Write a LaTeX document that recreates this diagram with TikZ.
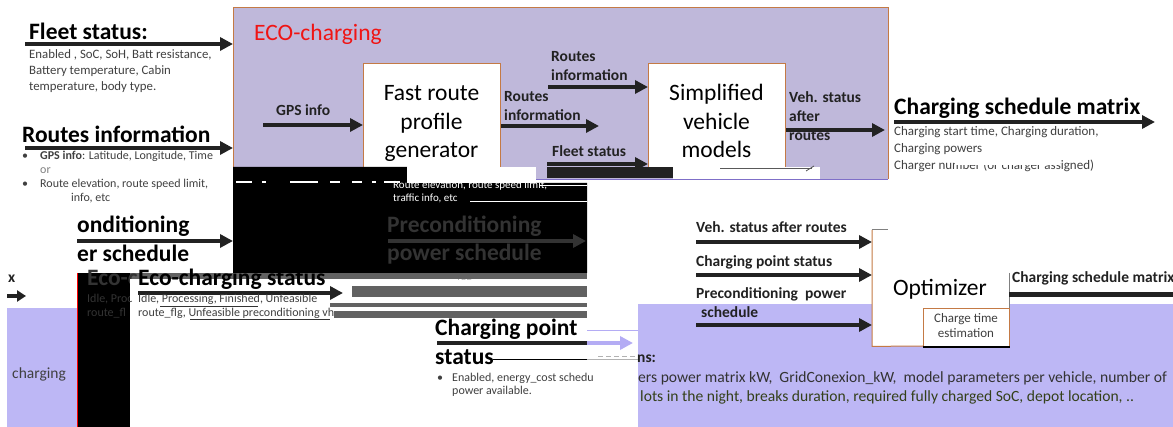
\documentclass[tikz,border=0pt]{standalone}
\usepackage{fontspec}
\setmainfont{Carlito}
\usetikzlibrary{arrows.meta}
\definecolor{ecofill}{HTML}{BFB8DA}
\definecolor{ecoline}{HTML}{C47A45}
\definecolor{ecobottom}{HTML}{7F6FC8}
\definecolor{lavender}{HTML}{BDB7F5}
\definecolor{lavarrow}{HTML}{B4ACF4}
\definecolor{ink}{HTML}{222222}
\definecolor{bodytext}{HTML}{404040}
\definecolor{ghost}{HTML}{333333}
\definecolor{band}{HTML}{626262}
\definecolor{olive}{HTML}{34401A}
\definecolor{ecored}{HTML}{F01414}

\tikzset{
  flow/.style={line width=4.5pt, draw=ink, -{Triangle[length=13pt,width=13pt]}},
  head/.style={font=\bfseries\fontsize{23.5}{26}\selectfont, anchor=base west, inner sep=0pt, text=black},
  lbl/.style={font=\bfseries\fontsize{15.5}{18}\selectfont, anchor=base west, inner sep=0pt, text=ink},
  note/.style={font=\fontsize{12}{14}\selectfont, anchor=base west, inner sep=0pt, text=bodytext},
  bignote/.style={note, font=\fontsize{12.8}{15}\selectfont},
  big/.style={font=\fontsize{23.5}{26}\selectfont, anchor=base, inner sep=0pt, text=black},
  blockbox/.style={draw=ecoline, line width=1pt, fill=white, inner sep=0pt, anchor=north west},
}

\begin{document}
\begin{tikzpicture}[x=1pt,y=-1pt]
\useasboundingbox (0,0) rectangle (1173,427);
\clip (0,0) rectangle (1173,427);
\fill[white] (0,0) rectangle (1173,427);

% ---------- ECO-charging frame ----------
\node[fill=ecofill, minimum width=655pt, minimum height=171pt, inner sep=0pt, anchor=north west] (eco) at (233,8) {};
\draw[ecoline, line width=1pt] (eco.south west) -- (eco.north west) -- (eco.north east) -- (eco.south east);
\draw[ecobottom, line width=1pt] (eco.south west) -- (eco.south east);
\node[font=\fontsize{23.5}{26}\selectfont, text=ecored, anchor=base west, inner sep=0pt] (ecot) at (254,41) {ECO-charging};

% fast route profile generator
\node[blockbox, minimum width=137pt, minimum height=104pt] (frp) at (363,63) {};
\node[big] (frp1) at (431.5,101) {Fast route};
\node[big] (frp2) at (431.5,130) {profile};
\node[big] (frp3) at (431.5,158) {generator};

% simplified vehicle models
\node[blockbox, minimum width=137pt, minimum height=104pt] (svm) at (648,63) {};
\node[big] (svm1) at (716.5,101) {Simplified};
\node[big] (svm2) at (716.5,130) {vehicle};
\node[big] (svm3) at (716.5,158) {models};

% inner flows
\node[lbl] (gpsl) at (276,116) {GPS info};
\coordinate (gpsA) at (263,125);
\draw[flow] (gpsA) -- (gpsA -| frp.west);

\node[lbl] (ri1) at (504,102) {Routes};
\node[lbl] (ri2) at (504,121) {information};
\coordinate (riB) at (599,126);
\draw[flow] (frp.east |- riB) -- (riB);

\node[lbl] (ru1) at (551,62) {Routes};
\node[lbl] (ru2) at (551,81) {information};
\coordinate (ruA) at (548,87);
\draw[flow] (ruA) -- (ruA -| svm.west);

\node[lbl] (fsl) at (552,157) {Fleet status};
\coordinate (fsiA) at (547,164);
\draw[flow] (fsiA) -- (fsiA -| svm.west);

\node[lbl] (vs1) at (789,103) {Veh. status};
\node[lbl] (vs2) at (789,122) {after};
\node[lbl] (vs3) at (789,141) {routes};
\coordinate (vsB) at (885,130);
\draw[flow] (svm.east |- vsB) -- (vsB);

% strip under the frame
\fill[ink] (547,167) rectangle (673,178);
\fill[white] (673,167) rectangle (820,179);
\draw[gray!70!black, line width=0.8pt] (720,168) -- (812,168);
\draw[gray!70!black, line width=0.8pt] (806,171) -- (814,166);

% ---------- inputs on the left ----------
\node[head] (fst) at (29,40) {Fleet status:};
\coordinate (fsA) at (25,44);
\draw[flow] (fsA) -- (fsA -| eco.west);
\node[bignote] (fs1) at (29,59) {Enabled , SoC, SoH, Batt resistance,};
\node[bignote] (fs2) at (29,75) {Battery temperature, Cabin};
\node[bignote] (fs3) at (29,91) {temperature, body type.};

\node[head] (rit) at (22,143) {Routes information};
\coordinate (riA) at (25,148);
\draw[flow] (riA) -- (riA -| eco.west);
\node[note] (rb1) at (22,160) {•};
\node[note] (rt1) at (40,160) {\textbf{GPS info}: Latitude, Longitude, Time};
\node[note, text=gray] (rt2) at (40,174) {or};
\node[note] (rb2) at (22,188) {•};
\node[note] (rt3) at (40,188) {Route elevation, route speed limit,};
\node[note] (rt4) at (71,202) {info, etc};

% ---------- black block ----------
\fill[black] (233,167) -- (407,167) -- (407,183) -- (587,183) -- (587,273) -- (233,273) -- cycle;
\fill[white] (407,167) rectangle (536,183);
\foreach \a/\b in {236/252, 262/266, 290/318, 330/340, 352/362, 372/376, 384/400}
  \draw[white, line width=1.2pt] (\a,182) -- (\b,182);
\node[note, text=white, font=\fontsize{11}{13}\selectfont] (gl1) at (393,189) {Route elevation, route speed limit,};
\node[note, text=white, font=\fontsize{11}{13}\selectfont] (gl2) at (393,202) {traffic info, etc};
\draw[white, line width=0.8pt] (540,185) -- (587,185);
\draw[white, line width=0.8pt] (470,201) -- (587,201);

\node[head, text=ghost] (pc1) at (387,233) {Preconditioning};
\node[head, text=ghost] (pc2) at (387,261) {power schedule};
\coordinate (pcA) at (388,241);
\coordinate (pcB) at (586,241);
\draw[flow, draw=ghost] (pcA) -- (pcB);
\draw[white, line width=0.6pt] (300,276) -- (587,276);
\node[font=\fontsize{10}{12}\selectfont, text=gray!60, anchor=base west, inner sep=0pt] (tbd) at (456,281) {TBD};

% preconditioning input (left)
\node[head] (po1) at (77,233) {onditioning};
\node[head] (po2) at (77,262) {er schedule};
\coordinate (poA) at (77,241);
\coordinate (poB) at (233,241);
\draw[flow] (poA) -- (poB);

% ---------- lower left ----------
\fill[lavender] (7,308) rectangle (77,427);
\node[font=\fontsize{15.5}{18}\selectfont, text=bodytext, anchor=base west, inner sep=0pt] (chg) at (12,379) {charging};
\node[lbl] (xl) at (8,283) {x};
\coordinate (xA) at (7,296);
\coordinate (xB) at (26,296);
\draw[line width=4pt, draw=ink, -{Triangle[length=9pt,width=11pt]}] (xA) -- (xB);

\fill[black] (77,273) rectangle (130,427);
\draw[red, line width=0.8pt] (77,273) -- (77,427);
\fill[band] (130,273) rectangle (587,279);

\node[head, text=ghost] (eg) at (87,286) {Eco-c};
\node[note, text=ghost] (eg1) at (87,303) {Idle, Proc};
\node[note, text=ghost] (eg2) at (87,317) {route\_fl};

\fill[white] (130,279) rectangle (343,300);
\node[head] (est) at (138,286) {Eco-charging status};
\coordinate (esA) at (138,293);
\coordinate (esB) at (343,293);
\draw[flow] (esA) -- (esB);
\node[note] (es1) at (138,303) {Idle, Processing, Finished, Unfeasible};
\node[note] (es2) at (138,317) {route\_flg, Unfeasible preconditioning vh};
\draw[ghost, line width=0.8pt] (160,306) -- (258,306);
\draw[ghost, line width=0.8pt] (190,319) -- (330,319);

\fill[band] (352,286) rectangle (587,297);
\fill[band] (330,303) rectangle (587,307);
\fill[band] (334,311) rectangle (587,318);

% ---------- charging point status ----------
\node[head] (cpt1) at (435,336) {Charging point};
\node[head] (cpt2) at (435,365) {status};
\coordinate (cpA) at (437,343);
\coordinate (cpM) at (587,343);
\coordinate (cpB) at (633,343);
\draw[line width=4.5pt, ink] (cpA) -- (cpM);
\draw[flow, draw=lavarrow] (cpM) -- (cpB);
\draw[lavarrow, line width=0.6pt] (587,330) -- (640,330);
\draw[black, line width=0.9pt] (493,359) -- (587,359);
\draw[gray!60, line width=0.9pt] (587,359) -- (640,359);
\node[note] (cb1) at (437,382) {•};
\node[note] (ct1) at (452,382) {Enabled, energy\_cost schedu};
\node[note] (ct2) at (452,395) {power available.};

% ---------- lower right: parameters ----------
\fill[lavender] (638,304) rectangle (1173,427);
\draw[gray!60, line width=1pt, dash pattern=on 5pt off 3pt] (598,357) -- (636,357);
\node[lbl] (pmt) at (637,363) {ns:};
\node[font=\fontsize{15.6}{18}\selectfont, text=ghost, anchor=base west, inner sep=0pt] (pm1) at (638,383) {ers power matrix kW,\ \ GridConexion\_kW,\ \ model parameters per vehicle, number of};
\node[font=\fontsize{15.6}{18}\selectfont, text=olive, anchor=base west, inner sep=0pt] (pm2) at (640,402) {lots in the night, breaks duration, required fully charged SoC, depot location, ..};

% ---------- optimizer ----------
\node[fill=white, minimum width=137pt, minimum height=116pt, inner sep=0pt, anchor=north west] (opt) at (872,230) {};
\draw[ecoline, line width=1pt] (opt.north west) -- (opt.south west) -- (923,346);
\draw[gray, line width=1pt] (opt.north west) -- (888,230);
\draw[gray, line width=1pt] (1009,273) -- (1009,308);
\node[big] (optt) at (940,296) {Optimizer};
\node[blockbox, minimum width=86pt, minimum height=38pt] (cte) at (923,308) {};
\draw[black, line width=1.2pt] (cte.south west) -- (cte.south east);
\node[font=\fontsize{13}{15}\selectfont, text=bodytext, anchor=base, inner sep=0pt] (cte1) at (966,323) {Charge time};
\node[font=\fontsize{13}{15}\selectfont, text=bodytext, anchor=base, inner sep=0pt] (cte2) at (966,338) {estimation};

\node[lbl] (oi1) at (696,233) {Veh. status after routes};
\coordinate (oiA) at (696,242);
\draw[flow] (oiA) -- (oiA -| opt.west);
\node[lbl] (oi2) at (696,267) {Charging point status};
\coordinate (oiB) at (696,275);
\draw[flow] (oiB) -- (oiB -| opt.west);
\node[lbl] (oi3) at (696,299) {Preconditioning\ \ power};
\node[lbl] (oi4) at (701,318) {schedule};
\coordinate (oiC) at (696,325);
\draw[flow] (oiC) -- (oiC -| opt.west);

\node[lbl] (oo) at (1012,283) {Charging schedule matrix};
\coordinate (ooB) at (1173,295);
\draw[line width=5pt, ink] (opt.east |- ooB) -- (ooB);

% ---------- output on the right ----------
\node[head] (csm) at (894,115) {Charging schedule matrix};
\coordinate (csA) at (894,122);
\coordinate (csB) at (1155,122);
\draw[flow] (csA) -- (csB);
\node[note, font=\fontsize{13}{15}\selectfont] (cs1) at (894,136) {Charging start time, Charging duration,};
\node[note, font=\fontsize{13}{15}\selectfont] (cs2) at (894,153) {Charging powers};
\node[note, font=\fontsize{13}{15}\selectfont] (cs3) at (894,170) {Charger number (or charger assigned)};
\fill[white] (955,158) rectangle (1060,165);
\end{tikzpicture}
\end{document}
